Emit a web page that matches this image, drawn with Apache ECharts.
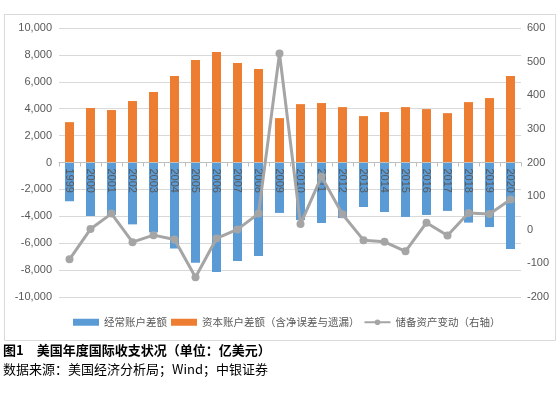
<!DOCTYPE html>
<html>
<head>
<meta charset="utf-8">
<script src="https://cdn.jsdelivr.net/npm/echarts@6/dist/echarts.min.js"></script>
<style>
  html, body { margin: 0; padding: 0; background: #fff; }
  #chart { width: 560px; height: 396px; }
</style>
</head>
<body>
<div id="chart"></div>
<script>
var years = ['1999', '2000', '2001', '2002', '2003', '2004', '2005', '2006', '2007', '2008', '2009',
  '2010', '2011', '2012', '2013', '2014', '2015', '2016', '2017', '2018', '2019', '2020'];
// 经常账户差额
var currentAcct = [-2880, -3980, -3900, -4600, -5200, -6390, -7450, -8150, -7330, -6960, -3750,
  -4280, -4500, -4130, -3310, -3680, -4050, -3900, -3600, -4470, -4800, -6440];
// 资本账户差额（含净误差与遗漏）
var capitalAcct = [3000, 4050, 3900, 4570, 5240, 6430, 7620, 8220, 7400, 6950, 3300,
  4340, 4420, 4120, 3450, 3750, 4120, 3970, 3670, 4490, 4790, 6430];
// 储备资产变动（右轴）
var reserves = [-88, 2, 48, -37, -16, -29, -141, -26, 1, 48, 524,
  17, 158, 46, -31, -36, -64, 21, -17, 50, 47, 90];

var chart = echarts.init(document.getElementById('chart'));
var txt = '#595959';
var fontFam = '"Liberation Sans", Arial, "Noto Sans CJK SC", sans-serif';
var gridTop = 28, gridBottom = 99;
// put the category axis on the zero line of the left axis (middle of -10000..10000)
var plotH = 396 - gridTop - gridBottom;

chart.setOption({
  animation: false,
  backgroundColor: '#fff',
  textStyle: { fontFamily: fontFam },
  graphic: [{
    type: 'rect',
    shape: { x: 4.5, y: 14.5, width: 551, height: 326 },
    style: { fill: 'none', stroke: '#d9d9d9', lineWidth: 1 }
  }],
  title: [{
    text: '图1　美国年度国际收支状况（单位：亿美元）',
    left: 3,
    top: 344,
    padding: 0,
    textStyle: { fontSize: 13, fontWeight: 'bold', color: '#000', fontFamily: '"Noto Sans CJK SC", sans-serif' }
  }, {
    text: '数据来源：美国经济分析局；Wind；中银证券',
    left: 3,
    top: 363,
    padding: 0,
    textStyle: { fontSize: 13, fontWeight: 'normal', color: '#000', fontFamily: '"Noto Sans CJK SC", sans-serif' }
  }],
  legend: {
    left: 68,
    top: 312,
    itemWidth: 26,
    itemHeight: 7,
    itemGap: 4,
    textStyle: { fontSize: 10.5, color: txt, fontFamily: '"Noto Sans CJK SC", sans-serif' },
    data: [
      { name: '经常账户差额', icon: 'rect' },
      { name: '资本账户差额（含净误差与遗漏）', icon: 'rect' },
      { name: '储备资产变动（右轴）' }
    ]
  },
  grid: { left: 59, right: 39, top: gridTop, bottom: gridBottom, containLabel: false },
  xAxis: {
    type: 'category',
    data: years,
    position: 'bottom',
    offset: -plotH / 2,
    z: 10,
    axisLine: { onZero: false, lineStyle: { color: '#bfbfbf' } },
    axisTick: { show: true, length: 4, lineStyle: { color: '#bfbfbf' } },
    axisLabel: { rotate: -90, margin: 6, fontSize: 11, color: txt, interval: 0, hideOverlap: false }
  },
  yAxis: [{
    type: 'value',
    min: -10000,
    max: 10000,
    interval: 2000,
    axisLine: { show: false },
    axisTick: { show: false },
    splitLine: { lineStyle: { color: '#d9d9d9' } },
    axisLabel: {
      fontSize: 11,
      color: txt,
      margin: 7,
      formatter: function (v) { return v.toLocaleString('en-US'); }
    }
  }, {
    type: 'value',
    min: -200,
    max: 600,
    interval: 100,
    axisLine: { show: false },
    axisTick: { show: false },
    splitLine: { show: false },
    axisLabel: { fontSize: 11, color: txt, margin: 6 }
  }],
  series: [{
    name: '经常账户差额',
    type: 'bar',
    stack: 'bop',
    barWidth: 9,
    itemStyle: { color: '#5B9BD5' },
    data: currentAcct
  }, {
    name: '资本账户差额（含净误差与遗漏）',
    type: 'bar',
    stack: 'bop',
    barWidth: 9,
    itemStyle: { color: '#ED7D31' },
    data: capitalAcct
  }, {
    name: '储备资产变动（右轴）',
    type: 'line',
    yAxisIndex: 1,
    z: 12,
    symbol: 'circle',
    symbolSize: 8,
    lineStyle: { color: '#A5A5A5', width: 3 },
    itemStyle: { color: '#A5A5A5' },
    data: reserves
  }]
});
</script>
</body>
</html>
